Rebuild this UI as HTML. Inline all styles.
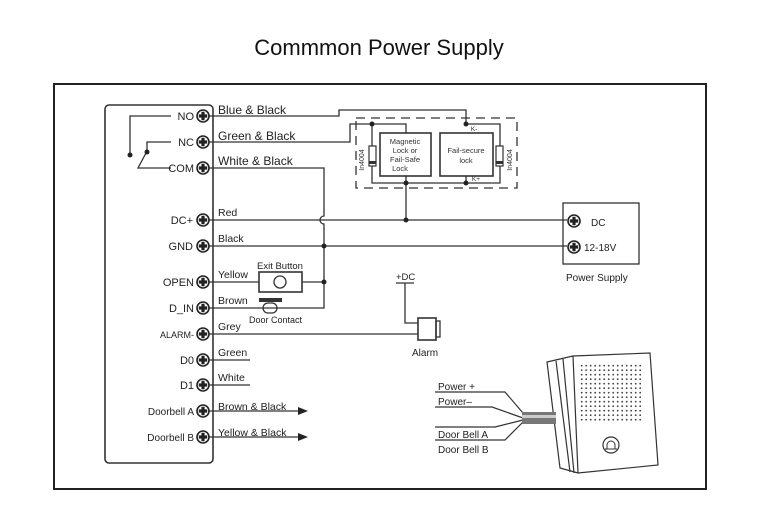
<!DOCTYPE html>
<html><head><meta charset="utf-8"><style>
html,body{margin:0;padding:0;background:#fff;}
svg{display:block;font-family:"Liberation Sans",Arial,sans-serif;}
</style></head><body>
<svg width="759" height="520" viewBox="0 0 759 520" xmlns="http://www.w3.org/2000/svg">
<defs>
<g id="t"><circle r="6" fill="#fff" stroke="#222" stroke-width="1.6"/><path d="M-1.6,-4.2h3.2v2.6h2.6v3.2h-2.6v2.6h-3.2v-2.6h-2.6v-3.2h2.6z" fill="#222"/></g>
</defs>
<text x="379" y="55" font-size="22" text-anchor="middle" fill="#111">Commmon Power Supply</text>
<rect x="54" y="84" width="652" height="405" fill="none" stroke="#222" stroke-width="2"/>
<rect x="105" y="105" width="108" height="358" rx="4" fill="none" stroke="#333" stroke-width="1.6"/>
<g stroke="#333" stroke-width="1.3" fill="none">
<!-- relay symbol -->
<polyline points="171,116 130,116 130,155"/>
<polyline points="171,142 147,142 147,152"/>
<polyline points="171,168 138,168 146,153"/>
<!-- NO wire -->
<polyline points="209,116 339,116 339,110 466,110 466,124"/>
<!-- green -->
<polyline points="209,142 350,142 350,124 406,124 406,133"/>
<polyline points="372,124 372,183 500,183 500,124 466,124"/>
<rect x="380" y="133" width="51" height="43" stroke-width="1.6"/>
<rect x="440" y="133" width="53" height="43" stroke-width="1.6"/>
<polyline points="406,176 406,220"/>
<polyline points="466,176 466,183"/>
<!-- COM -->
<path d="M209,168 H324 V216 A4,4 0 0 0 324,224 V308 H209"/>
<line x1="209" y1="220" x2="567" y2="220"/>
<line x1="209" y1="246" x2="567" y2="246"/>
<line x1="209" y1="282" x2="259" y2="282"/>
<line x1="302" y1="282" x2="324" y2="282"/>
<rect x="259" y="272" width="43" height="20" stroke-width="1.6"/>
<circle cx="280" cy="282" r="6"/>
<rect x="263" y="303" width="14" height="10" rx="5"/>
<line x1="209" y1="334" x2="418" y2="334"/>
<polyline points="396,283 414,283"/>
<polyline points="405,283 405,323 418,323"/>
<rect x="418" y="318" width="18" height="22" stroke-width="1.6"/>
<rect x="436" y="321" width="4" height="16"/>
<line x1="209" y1="360" x2="250" y2="360"/>
<line x1="209" y1="385" x2="250" y2="385"/>
<line x1="209" y1="411" x2="300" y2="411"/>
<line x1="209" y1="437" x2="300" y2="437"/>
<rect x="563" y="203" width="76" height="61"/>
<rect x="356" y="118" width="161" height="70" stroke-dasharray="9,6"/>
</g>
<rect x="259" y="298" width="23" height="4" fill="#333"/>
<!-- diodes -->
<rect x="369" y="146" width="7" height="20" fill="#fff" stroke="#333" stroke-width="1.2"/><rect x="369" y="161" width="7" height="3" fill="#333"/>
<rect x="496" y="146" width="7" height="20" fill="#fff" stroke="#333" stroke-width="1.2"/><rect x="496" y="161" width="7" height="3" fill="#333"/>
<g fill="#222">
<circle cx="130" cy="155" r="2.5"/><circle cx="147" cy="152" r="2.5"/>
<circle cx="372" cy="124" r="2.5"/><circle cx="466" cy="124" r="2.5"/>
<circle cx="406" cy="183" r="2.5"/><circle cx="466" cy="183" r="2.5"/>
<circle cx="406" cy="220" r="2.5"/><circle cx="324" cy="246" r="2.5"/><circle cx="324" cy="282" r="2.5"/>
<polygon points="298,407 308,411 298,415"/><polygon points="298,433 308,437 298,441"/>
</g>
<g>
<use href="#t" x="203" y="116"/><use href="#t" x="203" y="142"/><use href="#t" x="203" y="168"/>
<use href="#t" x="203" y="220"/><use href="#t" x="203" y="246"/><use href="#t" x="203" y="282"/>
<use href="#t" x="203" y="308"/><use href="#t" x="203" y="334"/><use href="#t" x="203" y="360"/>
<use href="#t" x="203" y="385"/><use href="#t" x="203" y="411"/><use href="#t" x="203" y="437"/>
<use href="#t" x="574" y="221"/><use href="#t" x="574" y="247"/>
</g>
<g font-size="11" fill="#222" text-anchor="end">
<text x="194" y="120">NO</text><text x="194" y="146">NC</text><text x="194" y="172">COM</text>
<text x="193" y="224">DC+</text><text x="193" y="250">GND</text><text x="194" y="286">OPEN</text>
<text x="194" y="312">D_IN</text><text x="194" y="338" font-size="9">ALARM-</text>
<text x="194" y="364">D0</text><text x="194" y="389">D1</text>
<text x="194" y="415" font-size="10">Doorbell A</text><text x="194" y="441" font-size="10">Doorbell B</text>
</g>
<g font-size="12" fill="#222">
<text x="218" y="114">Blue &amp; Black</text><text x="218" y="140">Green &amp; Black</text><text x="218" y="165">White &amp; Black</text>
</g>
<g font-size="10.5" fill="#222">
<text x="218" y="216">Red</text><text x="218" y="242">Black</text><text x="218" y="278">Yellow</text>
<text x="218" y="304">Brown</text><text x="218" y="330">Grey</text><text x="218" y="356">Green</text>
<text x="218" y="381">White</text><text x="218" y="410">Brown &amp; Black</text><text x="218" y="436">Yellow &amp; Black</text>
<text x="257" y="269" font-size="9.5">Exit Button</text><text x="249" y="323" font-size="9">Door Contact</text>
<text x="396" y="280" font-size="9.5">+DC</text><text x="412" y="356" font-size="10">Alarm</text>
<text x="591" y="226" font-size="10">DC</text><text x="584" y="251" font-size="10">12-18V</text>
<text x="566" y="281" font-size="10">Power Supply</text>
</g>
<g font-size="7.5" fill="#333" text-anchor="middle">
<text x="405" y="144">Magnetic</text><text x="405" y="153">Lock or</text><text x="405" y="162">Fail-Safe</text><text x="400" y="171">Lock</text>
<text x="466" y="153">Fail-secure</text><text x="466" y="163">lock</text>
<text x="474" y="131" font-size="6.5">K-</text><text x="476" y="181" font-size="6.5">K+</text>
<text transform="translate(364,160) rotate(-90)" font-size="7">In4004</text>
<text transform="translate(512,160) rotate(-90)" font-size="7">In4004</text>
</g>
<!-- doorbell -->
<g stroke="#333" stroke-width="1.2" fill="none">
<polyline points="435,392 505,392 523,413"/>
<polyline points="435,407 492,407 523,418"/>
<polyline points="435,440 505,440 523,422"/>
<polyline points="435,427 495,427 523,420"/>
<polygon points="547,362 573,356 650,353 658,465 578,473 560,468" fill="#fff"/>
<line x1="556" y1="361" x2="570" y2="472"/><line x1="563" y1="359" x2="574" y2="473"/><line x1="573" y1="356" x2="578" y2="473"/>
<circle cx="611" cy="445" r="8"/>
</g>
<rect x="522" y="412" width="34" height="12" fill="#777"/>
<rect x="522" y="415" width="34" height="3" fill="#ccc"/>
<path d="M607,449 v-4 a4,4 0 0 1 8,0 v4 z M605,449 h12" stroke="#333" fill="none" stroke-width="1"/>
<g fill="#444">
<pattern id="dots" width="4.5" height="4.5" patternUnits="userSpaceOnUse"><circle cx="1.2" cy="1.2" r="0.9"/></pattern>
<rect x="579" y="364" width="62" height="58" fill="url(#dots)"/>
</g>
<g font-size="10" fill="#222">
<text x="438" y="390">Power +</text><text x="438" y="405">Power–</text>
<text x="438" y="438">Door Bell  A</text><text x="438" y="453">Door Bell  B</text>
</g>
</svg>
</body></html>
